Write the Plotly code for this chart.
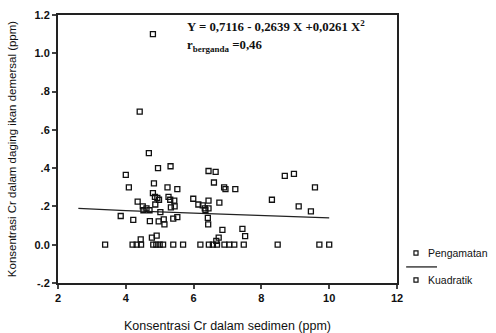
import plotly.graph_objects as go

# Observed points (Cr in sediment, Cr in fish flesh)
obs_x = [4.80, 4.41, 4.68, 4.00, 5.32, 4.95, 4.09, 4.83, 5.23, 5.52,
         6.44, 6.65, 6.60, 6.90, 6.94, 7.23, 4.80, 4.86, 4.93, 4.98,
         5.26, 5.31, 5.43, 4.35, 4.50, 4.61, 4.52, 4.70, 4.87, 5.44,
         5.33, 5.02, 5.99, 6.14, 6.27, 6.33, 6.44, 6.44, 6.35, 6.76,
         3.85, 4.22, 4.71, 4.97, 5.12, 5.14, 5.40, 5.52, 6.42, 6.43,
         6.85, 7.44, 7.52, 6.74, 6.67, 4.44, 4.77, 4.91, 8.69, 8.96,
         9.58, 8.31, 9.10, 9.46,
         3.39, 4.20, 4.32, 4.45, 4.81, 4.90, 5.00, 5.10, 5.40, 5.69,
         6.20, 6.45, 6.57, 6.69, 6.91, 7.05, 7.20, 7.48, 8.48, 9.71, 10.0]
obs_y = [1.10, 0.695, 0.478, 0.365, 0.41, 0.40, 0.30, 0.32, 0.30, 0.29,
         0.385, 0.38, 0.325, 0.30, 0.29, 0.29, 0.27, 0.25, 0.245, 0.235,
         0.25, 0.235, 0.23, 0.225, 0.20, 0.19, 0.18, 0.18, 0.21, 0.20,
         0.195, 0.17, 0.24, 0.21, 0.205, 0.19, 0.23, 0.19, 0.18, 0.22,
         0.15, 0.13, 0.123, 0.122, 0.132, 0.106, 0.136, 0.144, 0.14, 0.106,
         0.078, 0.083, 0.045, 0.037, 0.02, 0.028, 0.037, 0.047, 0.36, 0.37,
         0.30, 0.235, 0.20, 0.174,
         0, 0, 0, 0, 0, 0, 0, 0, 0, 0,
         0, 0, 0, 0, 0, 0, 0, 0, 0, 0, 0]

# Fitted quadratic curve as drawn
fit_x = [2.6, 4.0, 6.0, 8.0, 10.0]
fit_y = [0.19, 0.178, 0.165, 0.153, 0.14]

x_ticks = [2, 4, 6, 8, 10, 12]
y_ticks = [-0.2, 0.0, 0.2, 0.4, 0.6, 0.8, 1.0, 1.2]
y_ticklabels = ["<b>-.2</b>", "<b>0.0</b>", "<b>.2</b>", "<b>.4</b>",
                "<b>.6</b>", "<b>.8</b>", "<b>1.0</b>", "<b>1.2</b>"]
x_ticklabels = ["<b>2</b>", "<b>4</b>", "<b>6</b>", "<b>8</b>",
                "<b>10</b>", "<b>12</b>"]

fig = go.Figure()
fig.add_trace(go.Scatter(
    x=fit_x, y=fit_y, mode="lines", name="Kuadratik",
    line=dict(color="#222", width=1.3), showlegend=False))
fig.add_trace(go.Scatter(
    x=obs_x, y=obs_y, mode="markers", name="Pengamatan",
    marker=dict(symbol="square-open", size=5, color="#111",
                line=dict(width=1.3, color="#111")),
    showlegend=False))

font = "Liberation Sans, Arial, sans-serif"
fig.update_layout(
    width=496, height=333,
    margin=dict(l=58, r=99, t=15, b=50),
    paper_bgcolor="white", plot_bgcolor="white",
    font=dict(family=font, color="#111", size=11),
    xaxis=dict(range=[2, 12], tickvals=x_ticks, ticktext=x_ticklabels,
               ticks="outside", ticklen=4, automargin=False,
               tickwidth=2, showline=True, linewidth=2, linecolor="#222",
               mirror=True, showgrid=False, zeroline=False,
               tickfont=dict(size=11, family=font),
               title=dict(text="Konsentrasi Cr dalam sedimen (ppm)",
                          font=dict(size=12.5, family=font), standoff=20)),
    yaxis=dict(range=[-0.2, 1.2], tickvals=y_ticks, ticktext=y_ticklabels,
               ticks="outside", ticklen=4, tickwidth=2, showline=True,
               automargin=False,
               linewidth=2, linecolor="#222", mirror=True, showgrid=False,
               zeroline=False, tickfont=dict(size=11, family=font),
               title=dict(text="Konsentrasi Cr dalam daging ikan demersal (ppm)",
                          font=dict(size=11.5, family=font), standoff=15)),
)

fig.add_annotation(xref="paper", yref="paper", x=0.375, y=0.958,
                   xanchor="left", yanchor="middle", showarrow=False,
                   text="<b>Y = 0,7116 - 0,2639 X +0,0261 X<sup>2</sup></b>",
                   font=dict(family="Liberation Serif, Times New Roman, serif", size=12.8))
fig.add_annotation(xref="paper", yref="paper", x=0.375, y=0.885,
                   xanchor="left", yanchor="middle", showarrow=False,
                   text="<b>r<sub>berganda</sub> =0,46</b>",
                   font=dict(family="Liberation Serif, Times New Roman, serif", size=12.8))

# Legend (outside plot, right)
def sq(yp):
    fig.add_shape(type="rect", xref="paper", yref="paper",
                  x0=1.050, x1=1.062, y0=yp - 0.008, y1=yp + 0.008,
                  line=dict(color="#111", width=1.2))

sq(0.112)
sq(0.011)
fig.add_shape(type="line", xref="paper", yref="paper",
              x0=1.027, x1=1.118, y0=0.060, y1=0.060,
              line=dict(color="#222", width=1.3))
fig.add_annotation(xref="paper", yref="paper", x=1.086, y=0.112,
                   xanchor="left", yanchor="middle", showarrow=False,
                   text="Pengamatan", font=dict(size=10.5, family=font))
fig.add_annotation(xref="paper", yref="paper", x=1.086, y=0.011,
                   xanchor="left", yanchor="middle", showarrow=False,
                   text="Kuadratik", font=dict(size=10.5, family=font))

fig.write_html("out.html")
